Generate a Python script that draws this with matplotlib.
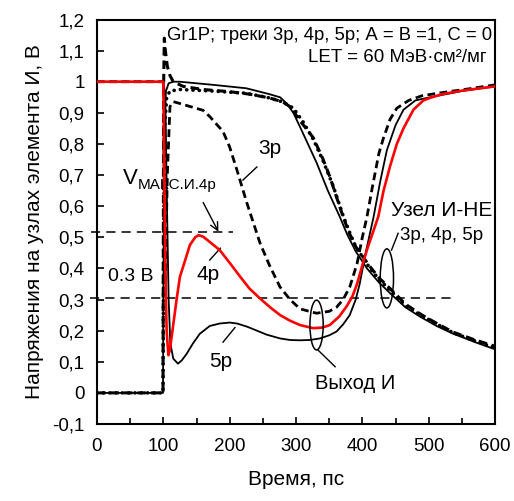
import matplotlib
matplotlib.use("Agg")
import matplotlib.pyplot as plt
from matplotlib.patches import Ellipse
from matplotlib.ticker import MultipleLocator, FixedLocator, FixedFormatter

plt.rcParams['font.family'] = ['Liberation Sans', 'DejaVu Sans']

# ---- data ----
x_nand_3p = [0, 99.5, 100.5, 101.5, 103, 106, 110, 115, 130, 160, 200, 230, 260, 280, 291, 306, 326, 340, 351, 361,
             371, 380, 390, 410, 425, 442, 465, 490, 515, 537, 570, 600]
y_nand_3p = [0, 0, 1.0, 1.14, 1.1, 1.05, 1.02, 1.0, 0.985, 0.975, 0.968, 0.96, 0.948, 0.935, 0.92, 0.875, 0.82, 0.755,
             0.695, 0.63, 0.566, 0.515, 0.47, 0.41, 0.37, 0.335, 0.285, 0.25, 0.22, 0.195, 0.17, 0.15]

x_nand_4p = [0, 99.5, 100.5, 102, 105, 110, 125, 175, 225, 260, 280, 296, 311, 326, 341, 356, 371, 380, 390, 410,
             425, 442, 465, 490, 515, 537, 570, 600]
y_nand_4p = [0, 0, 0.5, 0.85, 0.95, 0.97, 0.975, 0.97, 0.963, 0.948, 0.935, 0.915, 0.87, 0.815, 0.745, 0.665, 0.57,
             0.52, 0.47, 0.405, 0.365, 0.33, 0.28, 0.248, 0.218, 0.193, 0.167, 0.145]

x_nand_5p = [0, 99.5, 100.5, 102, 104, 108, 115, 125, 175, 225, 260, 276, 286, 296, 306, 318, 331, 348, 366, 377,
             390, 407, 425, 442, 465, 487, 512, 537, 570, 600]
y_nand_5p = [0, 0, 0.5, 0.9, 0.97, 0.995, 1.0, 1.0, 0.99, 0.979, 0.96, 0.95, 0.93, 0.9, 0.855, 0.8, 0.74, 0.65,
             0.566, 0.51, 0.455, 0.40, 0.355, 0.32, 0.275, 0.245, 0.215, 0.19, 0.163, 0.14]

x_and_3p = [0, 100, 101.5, 103, 106, 110, 115, 125, 160, 170, 190, 200, 211, 226, 246, 260, 276, 291, 306, 331,
            350, 361, 371, 381, 392, 400, 407, 415, 425, 432, 442, 452, 470, 490, 520, 560, 600]
y_and_3p = [1.0, 1.0, 0.6, 0.35, 0.7, 0.92, 0.936, 0.93, 0.908, 0.888, 0.84, 0.79, 0.716, 0.61, 0.48, 0.41, 0.34,
            0.3, 0.27, 0.256, 0.262, 0.275, 0.30, 0.34, 0.415, 0.5, 0.566, 0.66, 0.77, 0.82, 0.88, 0.915, 0.94,
            0.955, 0.965, 0.977, 0.99]

x_and_4p = [0, 100, 101.5, 103, 105, 107.6, 110, 115, 120, 125, 133, 140, 148, 153, 160, 170, 185, 200, 216, 230,
            246, 261, 276, 291, 306, 326, 340, 351, 365, 376, 385, 392, 400, 407, 415, 424, 432, 442, 452, 462,
            477, 492, 502, 520, 552, 600]
y_and_4p = [1.0, 1.0, 0.7, 0.4, 0.2, 0.121, 0.14, 0.22, 0.3, 0.373, 0.427, 0.475, 0.5, 0.507, 0.502, 0.485, 0.459,
            0.418, 0.373, 0.335, 0.303, 0.275, 0.25, 0.232, 0.218, 0.208, 0.21, 0.218, 0.245, 0.277, 0.31, 0.35,
            0.41, 0.46, 0.51, 0.566, 0.65, 0.73, 0.80, 0.85, 0.91, 0.94, 0.948, 0.96, 0.972, 0.985]

x_and_5p = [0, 100, 103, 105.5, 108, 110.5, 115, 122, 128, 135, 145, 155, 170, 185, 200, 211, 226, 241, 256, 276,
            291, 306, 321, 336, 350, 361, 371, 381, 390, 396, 405, 417, 427, 437, 450, 462, 480, 502, 550, 600]
y_and_5p = [1.0, 1.0, 0.95, 0.6, 0.3, 0.16, 0.11, 0.094, 0.105, 0.125, 0.16, 0.19, 0.215, 0.223, 0.226, 0.223,
            0.213, 0.20, 0.187, 0.175, 0.17, 0.169, 0.17, 0.175, 0.185, 0.197, 0.22, 0.25, 0.30, 0.35, 0.45, 0.566,
            0.68, 0.78, 0.86, 0.91, 0.94, 0.95, 0.97, 0.985]

v_max_level = 0.518
v_03_level = 0.306

x_ticks = [0, 100, 200, 300, 400, 500, 600]
y_ticks = [-0.1, 0, 0.1, 0.2, 0.3, 0.4, 0.5, 0.6, 0.7, 0.8, 0.9, 1.0, 1.1, 1.2]
y_tick_labels = ['-0,1', '0', '0,1', '0,2', '0,3', '0,4', '0,5', '0,6', '0,7', '0,8', '0,9', '1', '1,1', '1,2']

# ---- figure ----
fig = plt.figure(figsize=(5.14, 5.01), dpi=100)
ax = fig.add_axes([97 / 514, 1 - 424 / 501, 398 / 514, (424 - 19.5) / 501])

dash = (0, (2.8, 1.6))
dot = (0, (0.05, 1.7))

ax.plot(x_nand_5p, y_nand_5p, color='black', lw=1.3, zorder=3)
ax.plot(x_nand_4p, y_nand_4p, color='black', lw=2.6, linestyle=dot, dash_capstyle='round', zorder=3)
ax.plot(x_nand_3p, y_nand_3p, color='black', lw=2.2, linestyle=dash, zorder=3)
ax.plot(x_and_3p, y_and_3p, color='black', lw=2.0, linestyle=dash, zorder=3)
ax.plot(x_and_5p, y_and_5p, color='black', lw=1.3, zorder=3)
ax.plot(x_and_4p, y_and_4p, color='#ff0000', lw=1.9, zorder=4)

# reference dashed lines
ax.plot([-9, 205], [v_max_level, v_max_level], color='black', lw=1.1, linestyle=(0, (6, 4)), clip_on=False, zorder=2)
ax.plot([-10, 540], [v_03_level, v_03_level], color='black', lw=1.1, linestyle=(0, (6, 4)), clip_on=False, zorder=2)

# ellipses
ax.add_patch(Ellipse((331, 0.218), 20, 0.16, fill=False, ec='black', lw=1.1, zorder=5))
ax.add_patch(Ellipse((437, 0.368), 20, 0.19, fill=False, ec='black', lw=1.1, zorder=5))

# leader lines
ax.plot([220, 241], [0.684, 0.726], color='black', lw=1.0)
ax.plot([170, 186], [0.427, 0.465], color='black', lw=1.0)
ax.plot([190, 208], [0.163, 0.21], color='black', lw=1.0)
ax.plot([333, 359], [0.138, 0.084], color='black', lw=1.0)
ax.plot([444, 454], [0.459, 0.513], color='black', lw=1.0)

ax.annotate('', xy=(183, 0.518), xytext=(160, 0.612),
            arrowprops=dict(arrowstyle='->', color='black', lw=1.0, mutation_scale=14, shrinkA=0, shrinkB=0))

# texts
ax.text(260, 0.785, '3р', fontsize=15, ha='center', va='center')
ax.text(168, 0.38, '4р', fontsize=15, ha='center', va='center')
ax.text(186, 0.10, '5р', fontsize=15, ha='center', va='center')
ax.text(51, 0.375, '0.3 В', fontsize=14, ha='center', va='center')
ax.text(389, 0.03, 'Выход И', fontsize=14.5, ha='center', va='center')
ax.text(520, 0.585, 'Узел И-НЕ', fontsize=15, ha='center', va='center')
ax.text(519, 0.505, '3р, 4р, 5р', fontsize=13.5, ha='center', va='center')
ax.text(39, 0.672, 'V', fontsize=16, ha='left', va='baseline')
ax.text(61, 0.656, 'МАКС.И.4р', fontsize=11, ha='left', va='baseline')
ax.text(596, 1.148, 'Gr1P; треки 3р, 4р, 5р; А = В =1, С = 0', fontsize=13.3, ha='right', va='center')
ax.text(588, 1.078, 'LET = 60 МэВ·см²/мг', fontsize=13.5, ha='right', va='center')

# axes
ax.set_xlim(0, 600)
ax.set_ylim(-0.1, 1.2)
ax.xaxis.set_major_locator(FixedLocator(x_ticks))
ax.xaxis.set_minor_locator(MultipleLocator(50))
ax.yaxis.set_major_locator(FixedLocator(y_ticks))
ax.yaxis.set_major_formatter(FixedFormatter(y_tick_labels))
ax.tick_params(axis='both', which='both', direction='in', top=False, right=False, width=1.2, labelsize=13.5)
ax.tick_params(axis='x', which='major', length=5, pad=10)
ax.tick_params(axis='x', which='minor', length=4)
ax.tick_params(axis='y', which='major', length=5, pad=9)
for s in ax.spines.values():
    s.set_linewidth(1.5)

ax.set_xlabel('Время, пс', fontsize=15, labelpad=11)
ax.set_ylabel('Напряжения на узлах элемента И, В', fontsize=15, labelpad=6)

fig.savefig('out.png', dpi=100)
